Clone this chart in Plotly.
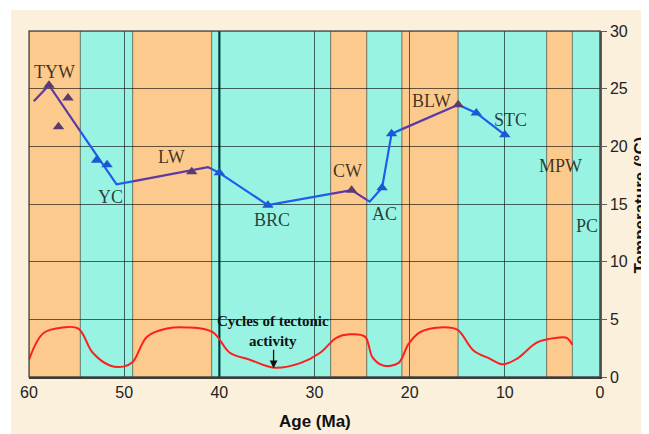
import numpy as np
import plotly.graph_objects as go

# ---------------- data ----------------
# climate bands (age edges in Ma, old -> young) and type
band_edges = [60, 54.6, 49.1, 40.8, 28.3, 24.5, 20.8, 14.9, 5.6, 2.9, 0]
band_types = ["warm", "cool", "warm", "cool", "warm", "cool", "warm", "cool", "warm", "cool"]

# temperature curve (Ma, degC)
line_age = [59.5, 57.9, 50.8, 41.2, 40.0, 34.9, 26.1, 24.2, 22.9, 21.9, 14.9, 13.0, 10.0]
line_temp = [23.9, 25.3, 16.7, 18.2, 17.7, 14.9, 16.2, 15.2, 16.4, 21.1, 23.6, 22.9, 21.0]

# warm-period data points (purple triangles)
warm_age = [57.9, 55.9, 56.9, 42.9, 26.1, 14.9]
warm_temp = [25.3, 24.2, 21.7, 17.8, 16.2, 23.6]

# cool-period data points (blue triangles)
cool_age = [52.9, 51.8, 40.0, 34.9, 22.9, 21.9, 13.0, 10.0]
cool_temp = [18.8, 18.4, 17.7, 14.9, 16.4, 21.1, 22.9, 21.0]

# period labels
label_text = ["TYW", "YC", "LW", "BRC", "CW", "AC", "BLW", "STC", "MPW", "PC"]
label_age = [57.3, 51.4, 45.0, 34.5, 26.5, 22.6, 17.7, 9.4, 4.2, 1.4]
label_temp = [26.45, 15.6, 19.1, 13.6, 17.9, 14.1, 23.9, 22.3, 18.3, 13.1]

# cycles of tectonic activity (red curve)
tect_age = [60, 58.5, 56.4, 54.8, 53.3, 51.5, 50.1, 49.1, 47.6, 45.5, 43.4, 40.7,
            38.9, 36.8, 34.2, 31.5, 29.4, 27.7, 26.3, 24.7, 23.9, 22.8, 21.2, 20.1,
            18.9, 16.8, 15.0, 13.3, 11.6, 10.2, 8.7, 6.6, 4.5, 3.5, 2.9]
tect_val = [1.5, 3.8, 4.3, 4.2, 2.1, 1.0, 0.9, 1.3, 3.5, 4.2, 4.3, 3.9,
            2.1, 1.5, 0.8, 1.2, 2.1, 3.4, 3.7, 3.5, 1.7, 1.0, 1.2, 2.9,
            3.9, 4.3, 4.1, 2.3, 1.6, 1.1, 1.6, 3.0, 3.4, 3.4, 2.8]

x_ticks = [60, 50, 40, 30, 20, 10, 0]
y_ticks = [0, 5, 10, 15, 20, 25, 30]

# ---------------- styles ----------------
WARM_FILL = "#FCCA8C"
COOL_FILL = "#98F3E3"
PURPLE = "#5B3AA6"
BLUE = "#1F5CEB"
TRI_PURPLE = "#5A3A70"
TRI_BLUE = "#1A5AD0"
BEIGE = "#FAF0DC"
GRID = "rgba(0,0,0,0.6)"

fig = go.Figure()

# beige paper texture area
fig.add_shape(type="rect", xref="paper", yref="paper", x0=-0.0315, x1=1.3,
              y0=-0.3, y1=1.0607, fillcolor=BEIGE, line_width=0, layer="below")

# bands
for i, t in enumerate(band_types):
    fig.add_shape(type="rect", xref="x", yref="y",
                  x0=band_edges[i], x1=band_edges[i + 1], y0=0, y1=30,
                  fillcolor=WARM_FILL if t == "warm" else COOL_FILL,
                  line=dict(color="rgba(0,0,0,0.35)", width=1), layer="below")

# heavier gridline at 40 Ma
fig.add_shape(type="line", xref="x", yref="y", x0=40, x1=40, y0=0, y1=30,
              line=dict(color="rgba(0,70,70,0.8)", width=2.5), layer="below")

# plot frame
fig.add_shape(type="rect", xref="paper", yref="paper", x0=0, x1=1, y0=0, y1=1,
              line=dict(color="rgba(60,60,60,0.8)", width=1.5), layer="above")


def band_type(a):
    for i in range(len(band_types)):
        if band_edges[i] >= a >= band_edges[i + 1]:
            return band_types[i]
    return band_types[-1]


# split the temperature line at band edges; colour each piece by its band
pts = []
for j in range(len(line_age) - 1):
    a0, a1 = line_age[j], line_age[j + 1]
    t0, t1 = line_temp[j], line_temp[j + 1]
    pts.append((a0, t0))
    for e in band_edges:
        if a1 < e < a0:
            pts.append((e, t0 + (t1 - t0) * (a0 - e) / (a0 - a1)))
pts.append((line_age[-1], line_temp[-1]))

groups = []
for k in range(len(pts) - 1):
    mid = 0.5 * (pts[k][0] + pts[k + 1][0])
    c = PURPLE if band_type(mid) == "warm" else BLUE
    if groups and groups[-1][0] == c:
        groups[-1][1].append(pts[k + 1])
    else:
        groups.append([c, [pts[k], pts[k + 1]]])

for c, seg in groups:
    fig.add_trace(go.Scatter(x=[p[0] for p in seg], y=[p[1] for p in seg],
                             mode="lines", line=dict(color=c, width=2.2),
                             showlegend=False, hoverinfo="skip"))

fig.add_trace(go.Scatter(x=warm_age, y=warm_temp, mode="markers",
                         marker=dict(symbol="triangle-up", size=10, color=TRI_PURPLE),
                         showlegend=False))
fig.add_trace(go.Scatter(x=cool_age, y=cool_temp, mode="markers",
                         marker=dict(symbol="triangle-up", size=10, color=TRI_BLUE),
                         showlegend=False))

fig.add_trace(go.Scatter(x=tect_age, y=tect_val, mode="lines",
                         line=dict(color="#FF1E1E", width=2, shape="spline", smoothing=1.0),
                         showlegend=False))

# labels
for txt, a, t in zip(label_text, label_age, label_temp):
    fig.add_annotation(x=a, y=t, text=txt, showarrow=False,
                       font=dict(family="Liberation Serif", size=18, color="rgba(0,0,0,0.75)"))

fig.add_annotation(x=34.4, y=4.0, text="<b>Cycles of tectonic<br>activity</b>", showarrow=False,
                   font=dict(family="Liberation Serif", size=15, color="#111"))
fig.add_annotation(x=34.3, y=0.75, ax=34.3, ay=2.5, axref="x", ayref="y", xref="x", yref="y",
                   text="", showarrow=True, arrowhead=2, arrowsize=1.2, arrowwidth=1.3,
                   arrowcolor="#111")

# axis titles
fig.add_annotation(xref="paper", yref="paper", x=0.5, y=-0.13, xanchor="center", yanchor="middle",
                   text="<b>Age (Ma)</b>", showarrow=False,
                   font=dict(family="Liberation Sans", size=17, color="#111"))
fig.add_annotation(xref="paper", yref="paper", x=1.091, y=0.497, xanchor="right", yanchor="middle",
                   text="<b>Temperature (°C)</b>", showarrow=False, textangle=-90,
                   font=dict(family="Liberation Sans", size=17, color="#111"))

# page body has an 8px margin, so the figure is offset by 8px; margins compensate
fig.update_layout(
    width=649, height=434,
    margin=dict(l=21, r=57, t=23, b=65, autoexpand=False),
    paper_bgcolor="white", plot_bgcolor="rgba(0,0,0,0)",
    showlegend=False,
    xaxis=dict(range=[60, 0], tickvals=x_ticks, ticktext=[str(v) for v in x_ticks],
               showgrid=True, gridcolor=GRID, gridwidth=1,
               zeroline=False, showline=True, linecolor="rgba(40,40,40,0.9)", linewidth=1.5,
               ticks="", automargin=False,
               tickfont=dict(family="Liberation Sans", size=16, color="#222")),
    yaxis=dict(range=[0, 30], tickvals=y_ticks, side="right",
               showgrid=True, gridcolor=GRID, gridwidth=1.2,
               zeroline=False, showline=True, linecolor="rgba(80,80,80,0.9)", linewidth=1.5,
               ticks="outside", ticklen=5, tickcolor="rgba(60,60,60,0.8)", automargin=False,
               tickfont=dict(family="Liberation Sans", size=16, color="#222")),
)

fig.write_html("out.html")
